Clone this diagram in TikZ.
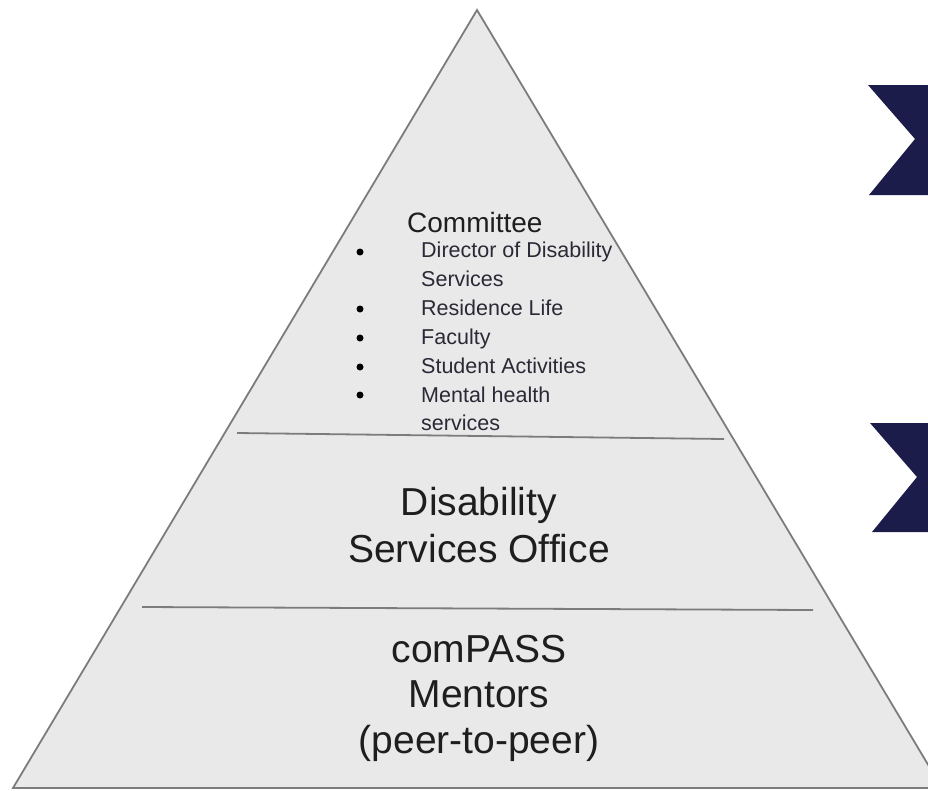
\documentclass[tikz,border=0pt]{standalone}
\usepackage{fontspec}
\setmainfont{Liberation Sans}
\definecolor{pyrfill}{HTML}{E9E9E9}
\definecolor{pyredge}{HTML}{7C7C7C}
\definecolor{navy}{HTML}{1C1C4A}
\definecolor{ink}{HTML}{1E1E1E}
\definecolor{listink}{HTML}{2A2A36}
\begin{document}
\begin{tikzpicture}[x=1pt,y=-1pt,
  outline/.style={draw=pyredge,line width=1.8pt},
  bigline/.style={font=\fontsize{39}{47}\selectfont,text=ink,inner sep=0pt,anchor=base},
  headline/.style={font=\fontsize{28}{34}\selectfont,text=ink,inner sep=0pt,anchor=base west},
  itemline/.style={font=\fontsize{21.5}{26}\selectfont,text=listink,inner sep=0pt,anchor=base west},
  bulletdot/.style={circle,fill=black,inner sep=0pt,minimum size=7pt},
  chevron/.style={fill=navy}]
\useasboundingbox (0,0) rectangle (928,790);
\clip (0,0) rectangle (928,790);

% pyramid body
\coordinate (apex) at (477,10);
\coordinate (baseL) at (13,788);
\coordinate (baseR) at (942,788);
\filldraw[fill=pyrfill,outline,line join=miter] (apex) -- (baseR) -- (baseL) -- cycle;

% tier dividers
\coordinate (d1a) at (237,433);
\coordinate (d1b) at (724,439);
\coordinate (d2a) at (142,607);
\coordinate (d2b) at (813,610);
\draw[outline] (d1a) -- (d1b);
\draw[outline] (d2a) -- (d2b);

% chevrons on the right
\fill[chevron] (868,85) -- (940,85) -- (940,195) -- (869,195) -- (915,139) -- cycle;
\fill[chevron] (870,423) -- (940,423) -- (940,532) -- (872,532) -- (917,477) -- cycle;

% top tier: committee
\node[headline] (committee) at (407,232) {Committee};
\node[itemline] (item1) at (421,257) {Director of Disability};
\node[itemline] (item1b) at (421,286) {Services};
\node[itemline] (item2) at (421,315) {Residence Life};
\node[itemline] (item3) at (421,344) {Faculty};
\node[itemline] (item4) at (421,373) {Student Activities};
\node[itemline] (item5) at (421,402) {Mental health};
\node[itemline] (item5b) at (421,430) {services};
\foreach \n/\y in {b1/252, b2/309, b3/338, b4/367, b5/395}
  \node[bulletdot] (\n) at (360,\y) {};

% middle tier
\node[bigline] (dso1) at (479,515) {Disability};
\node[bigline] (dso2) at (479,562) {Services Office};

% bottom tier
\node[bigline] (cp1) at (479,662) {comPASS};
\node[bigline] (cp2) at (479,707) {Mentors};
\node[bigline] (cp3) at (479,753) {(peer-to-peer)};
\end{tikzpicture}
\end{document}
